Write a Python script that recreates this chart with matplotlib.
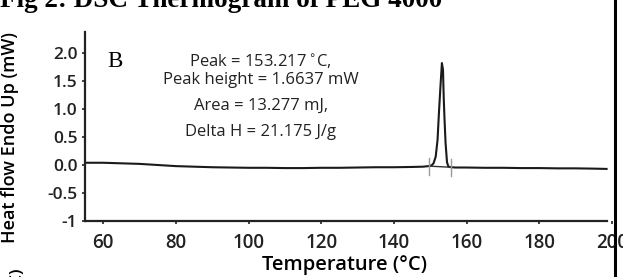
import matplotlib.pyplot as plt
from matplotlib.lines import Line2D

# heat flow curve
temp = [55.0, 60, 65, 70, 75, 80, 85, 90, 95, 100, 105, 110, 115, 120, 125,
        130, 135, 140, 145, 148, 149.5, 150.3, 150.9, 151.5, 152.0, 152.4,
        152.8, 153.2, 153.5, 153.7, 153.9, 154.2, 154.6, 155.0, 155.7, 157,
        160, 165, 170, 175, 180, 185, 190, 195, 198.5]
heat = [0.04, 0.04, 0.03, 0.02, 0.0, -0.02, -0.03, -0.04, -0.045, -0.05,
        -0.05, -0.055, -0.055, -0.05, -0.05, -0.045, -0.04, -0.04, -0.035,
        -0.03, -0.02, -0.01, 0.03, 0.15, 0.45, 0.95, 1.4, 1.82, 1.7, 1.2,
        0.85, 0.4, 0.05, -0.03, -0.04, -0.045, -0.045, -0.05, -0.05, -0.055,
        -0.055, -0.06, -0.06, -0.065, -0.07]

# integration limits and baseline
limits = [149.6, 155.7]
limit_heat = [-0.02, -0.04]

xticks = [60, 80, 100, 120, 140, 160, 180, 200]
yticks = [-1, -0.5, 0.0, 0.5, 1.0, 1.5, 2.0]
ylabels = ["-1", "-0.5", "0.0", "0.5", "1.0", "1.5", "2.0"]

notes = ["Peak = 153.217$\\,^{\\circ}$C,", "Peak height = 1.6637 mW",
         "Area = 13.277 mJ,", "Delta H = 21.175 J/g"]
note_y = [1.84, 1.52, 1.05, 0.59]


def main():
    plt.rcParams["font.family"] = ["Open Sans", "DejaVu Sans"]
    fig = plt.figure(figsize=(6.23, 2.77), dpi=100)
    ax = fig.add_axes([85 / 623, 1 - 221 / 277, (612 - 85) / 623,
                       (221 - 32) / 277])

    ax.plot(temp, heat, color="#1a1a1a", lw=1.5)
    ax.plot(limits, limit_heat, color="#333333", lw=1.0)
    for x, y in zip(limits, limit_heat):
        ax.plot([x, x], [y - 0.15, y + 0.15], color="#999999", lw=1.0)

    ax.set_xlim(55.0, 200.0)
    ax.set_ylim(-1, 2.375)
    ax.set_xticks(xticks)
    ax.set_yticks(yticks)
    ax.set_yticklabels(ylabels)
    for s in ["top", "right"]:
        ax.spines[s].set_visible(False)
    for s in ["left", "bottom"]:
        ax.spines[s].set_linewidth(1.6)
        ax.spines[s].set_color("#222222")
    ax.spines["bottom"].set_bounds(55.0, 198.5)
    ax.tick_params(axis="both", length=2.5, width=1.2, colors="#222222")
    ax.tick_params(axis="x", pad=6, labelsize=13.5)
    ax.tick_params(axis="y", pad=3, labelsize=12.5)
    for lab in ax.get_xticklabels() + ax.get_yticklabels():
        lab.set_fontweight("semibold")

    ax.set_xlabel("Temperature (°C)", fontsize=14.5, fontweight="semibold")
    ax.xaxis.set_label_coords((345 - 85) / 527, -0.18)
    ax.set_ylabel("Heat flow Endo Up (mW)", fontsize=13,
                  fontweight="semibold")
    ax.yaxis.set_label_coords(-0.125, 0.444)

    ax.text(63.3, 1.84, "B", family="Liberation Serif", fontsize=16.5,
            va="center", ha="center")
    for t, y in zip(notes, note_y):
        ax.text(103.4, y, t, fontsize=12, ha="center", va="center",
                color="#222222")

    fig.text(0.0, 1 - 7 / 277, "Fig 2: DSC Thermogram of PEG 4000",
             family="Liberation Serif", fontweight="bold", fontsize=19.5,
             va="baseline", ha="left")
    fig.text(17 / 623, 1 - 267 / 277, "(°C)", rotation=90, fontsize=12.5,
             fontweight="semibold", va="top", ha="center")
    fig.add_artist(Line2D([615 / 623, 615 / 623], [0, 1], color="black",
                          lw=2.2))

    fig.savefig("out.png", dpi=100)


if __name__ == "__main__":
    main()
